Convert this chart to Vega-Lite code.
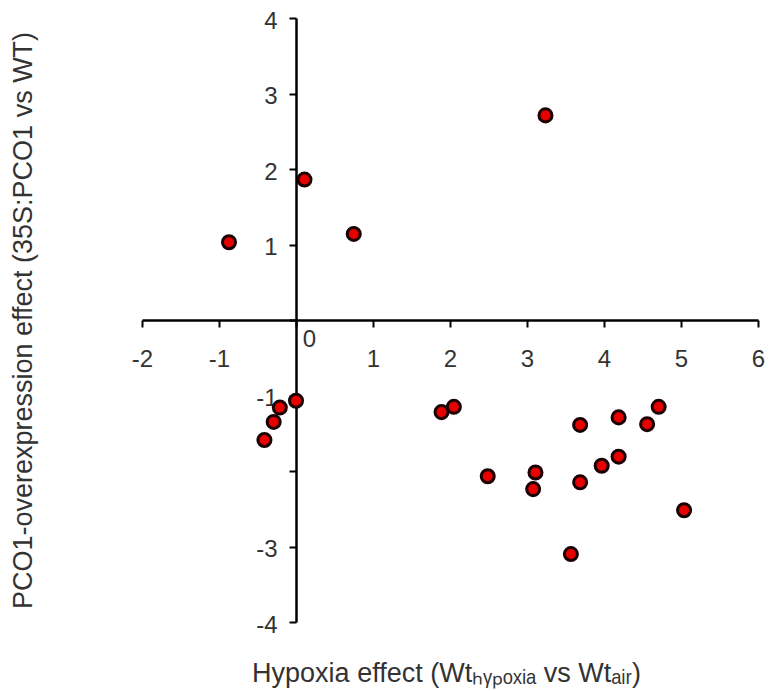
{
  "$schema": "https://vega.github.io/schema/vega-lite/v6.json",
  "width": 616,
  "height": 604,
  "autosize": {"type": "none"},
  "padding": {"left": 142, "top": 18, "right": 11, "bottom": 69},
  "background": "white",
  "config": {"view": {"stroke": null}, "font": "Liberation Sans"},
  "data": {
    "values": [
      {"hypoxia": -0.87, "pco1": 1.03},
      {"hypoxia": 0.11, "pco1": 1.86},
      {"hypoxia": 0.75, "pco1": 1.14},
      {"hypoxia": 3.24, "pco1": 2.71},
      {"hypoxia": 0.0, "pco1": -1.07},
      {"hypoxia": -0.21, "pco1": -1.16},
      {"hypoxia": -0.29, "pco1": -1.35},
      {"hypoxia": -0.41, "pco1": -1.59},
      {"hypoxia": 1.89, "pco1": -1.22},
      {"hypoxia": 2.05, "pco1": -1.15},
      {"hypoxia": 2.49, "pco1": -2.07},
      {"hypoxia": 3.11, "pco1": -2.02},
      {"hypoxia": 3.08, "pco1": -2.24},
      {"hypoxia": 3.69, "pco1": -1.39},
      {"hypoxia": 3.69, "pco1": -2.15},
      {"hypoxia": 3.97, "pco1": -1.93},
      {"hypoxia": 4.19, "pco1": -1.81},
      {"hypoxia": 4.19, "pco1": -1.29},
      {"hypoxia": 4.56, "pco1": -1.38},
      {"hypoxia": 4.71, "pco1": -1.15},
      {"hypoxia": 5.04, "pco1": -2.52},
      {"hypoxia": 3.57, "pco1": -3.1}
    ]
  },
  "mark": {
    "type": "circle",
    "size": 170,
    "fill": "#e60000",
    "stroke": "#1a0000",
    "strokeWidth": 3,
    "opacity": 1
  },
  "encoding": {
    "x": {
      "field": "hypoxia",
      "type": "quantitative",
      "scale": {"domain": [-2, 6], "nice": false, "zero": false},
      "axis": {
        "orient": "bottom",
        "offset": -302,
        "values": [-2, -1, 0, 1, 2, 3, 4, 5, 6],
        "grid": false,
        "domainColor": "black",
        "domainWidth": 2.5,
        "tickColor": "black",
        "tickWidth": 2,
        "tickSize": 7,
        "labelFontSize": 24,
        "labelColor": "#333333",
        "labelPadding": {"condition": {"test": "datum.value === 0", "value": 0}, "value": 20},
        "labelOffset": {"condition": {"test": "datum.value === 0", "value": 13}, "value": 0},
        "labelFlush": false,
        "labelOverlap": false,
        "labelExpr": "toString(datum.value)",
        "title": "Hypoxia effect (Wtₕᵧₚₒₓᵢₐ vs Wtₐᵢᵣ)",
        "titleFontSize": 27,
        "titleFontWeight": "normal",
        "titleColor": "#333333",
        "titleX": 304,
        "titleY": 361,
        "titleAlign": "center",
        "titleBaseline": "alphabetic"
      }
    },
    "y": {
      "field": "pco1",
      "type": "quantitative",
      "scale": {"domain": [-4, 4], "nice": false, "zero": false},
      "axis": {
        "orient": "left",
        "offset": -154,
        "values": [-4, -3, -2, -1, 0, 1, 2, 3, 4],
        "grid": false,
        "domainColor": "black",
        "domainWidth": 2.5,
        "tickColor": "black",
        "tickWidth": 2,
        "tickSize": 7,
        "labelFontSize": 24,
        "labelColor": "#333333",
        "labelPadding": 12,
        "labelOffset": 3,
        "labelFlush": false,
        "labelOverlap": false,
        "labelExpr": "datum.value === 0 || datum.value === -2 ? '' : toString(datum.value)",
        "title": "PCO1-overexpression effect (35S:PCO1 vs WT)",
        "titleFontSize": 27,
        "titleFontWeight": "normal",
        "titleColor": "#333333",
        "titleAngle": -90,
        "titleX": -273,
        "titleY": 302,
        "titleAlign": "center",
        "titleBaseline": "middle"
      }
    }
  }
}
